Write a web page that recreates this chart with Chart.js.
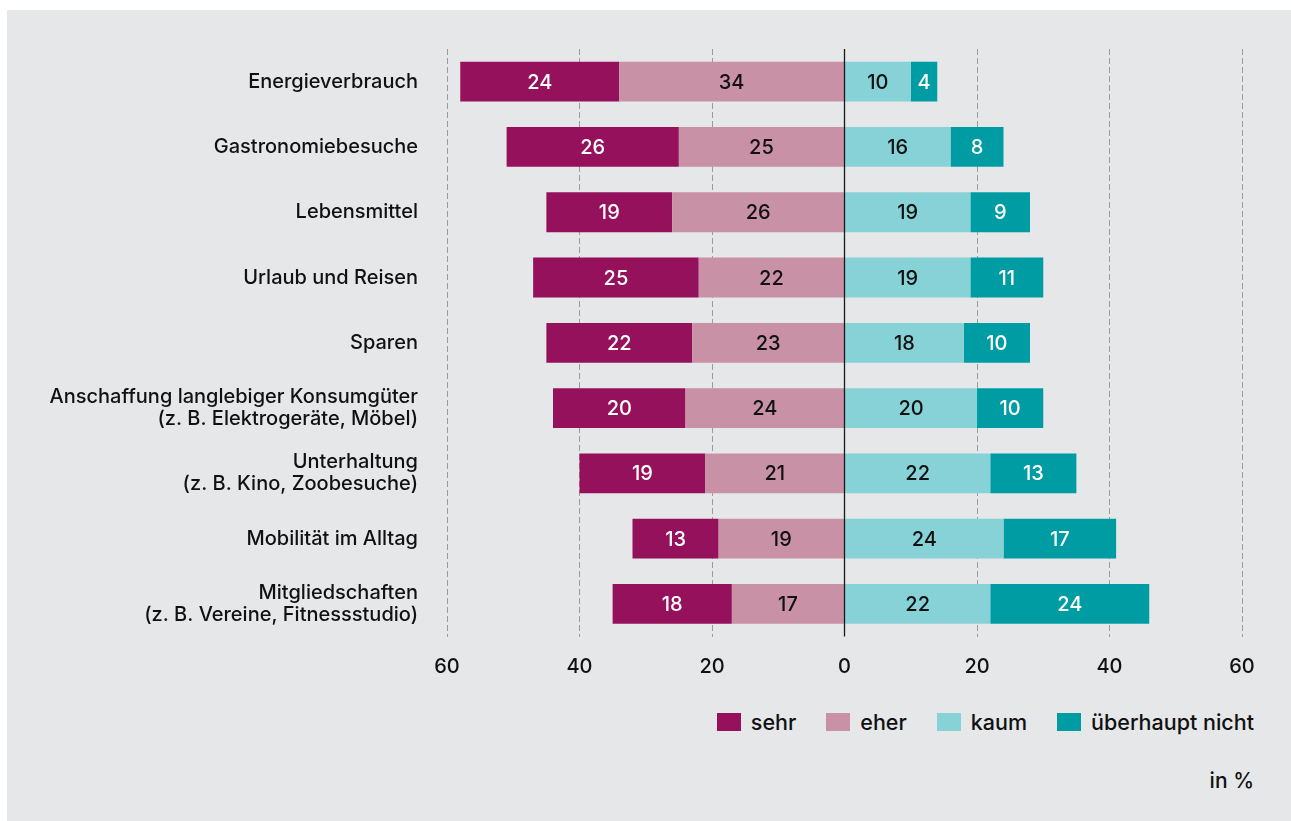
<!DOCTYPE html>
<html lang="de">
<head>
<meta charset="utf-8">
<title>Einsparungen</title>
<script src="https://cdn.jsdelivr.net/npm/chart.js@4.4.1/dist/chart.umd.min.js"></script>
<style>
  html, body { margin: 0; padding: 0; background: #fff; }
  body {
    width: 1291px; height: 821px; position: relative; overflow: hidden;
    font-family: Inter, "Liberation Sans", Arial, sans-serif; font-weight: 500; color: #111;
  }
  #panel { position: absolute; left: 7px; top: 10px; right: 0; bottom: 0; background: #e6e7e9; }
  #wrap { position: absolute; left: 0; top: 0; width: 1291px; height: 700px; }
  #legend {
    position: absolute; right: 37px; top: 711px;
    display: flex; gap: 30px; font-size: 21.5px; line-height: 22px;
  }
  #legend .item { display: flex; align-items: center; }
  #legend .box { width: 24px; height: 18px; margin-right: 10px; }
  #unit { position: absolute; right: 37px; top: 770px; font-size: 21px; line-height: 22px; }
</style>
</head>
<body>
<div id="panel"></div>
<div id="wrap"><canvas id="sparChart"></canvas></div>
<div id="legend"></div>
<div id="unit">in %</div>

<script>
const categories = [
  "Energieverbrauch",
  "Gastronomiebesuche",
  "Lebensmittel",
  "Urlaub und Reisen",
  "Sparen",
  ["Anschaffung langlebiger Konsumgüter", "(z. B. Elektrogeräte, Möbel)"],
  ["Unterhaltung", "(z. B. Kino, Zoobesuche)"],
  "Mobilität im Alltag",
  ["Mitgliedschaften", "(z. B. Vereine, Fitnessstudio)"],
];

const sehr = [24, 26, 19, 25, 22, 20, 19, 13, 18];
const eher = [34, 25, 26, 22, 23, 24, 21, 19, 17];
const kaum = [10, 16, 19, 19, 18, 20, 22, 24, 22];
const ueberhauptNicht = [4, 8, 9, 11, 10, 10, 13, 17, 24];

const xTicks = [-60, -40, -20, 0, 20, 40, 60];

const FONT = 'Inter, "Liberation Sans", Arial, sans-serif';

// legend order differs from stacking order (eher sits next to zero)
const series = [
  { label: "sehr", values: sehr, color: "#96115c", text: "#ffffff", side: -1 },
  { label: "eher", values: eher, color: "#c991a5", text: "#111111", side: -1 },
  { label: "kaum", values: kaum, color: "#87d2d6", text: "#111111", side: 1 },
  { label: "überhaupt nicht", values: ueberhauptNicht, color: "#009ca3", text: "#ffffff", side: 1 },
];
const stackOrder = [1, 0, 2, 3];

const datasets = stackOrder.map((i) => {
  const s = series[i];
  return {
    label: s.label,
    data: s.values.map((v) => v * s.side),
    backgroundColor: s.color,
    textColor: s.text,
    borderWidth: 0,
    categoryPercentage: 1,
    barPercentage: 0.61,
  };
});

const barValues = {
  id: "barValues",
  afterDatasetsDraw(chart) {
    const ctx = chart.ctx;
    ctx.save();
    ctx.font = "500 20px " + FONT;
    ctx.textAlign = "center";
    ctx.textBaseline = "middle";
    chart.data.datasets.forEach((ds, di) => {
      const meta = chart.getDatasetMeta(di);
      meta.data.forEach((bar, j) => {
        const p = bar.getCenterPoint();
        ctx.fillStyle = ds.textColor;
        ctx.fillText(String(Math.abs(ds.data[j])), p.x, p.y + 1);
      });
    });
    // zero line on top of the bars
    const x0 = chart.scales.x.getPixelForValue(0);
    ctx.strokeStyle = "#1a1a1a";
    ctx.lineWidth = 1.3;
    ctx.beginPath();
    ctx.moveTo(x0, chart.chartArea.top);
    ctx.lineTo(x0, chart.chartArea.bottom);
    ctx.stroke();
    ctx.restore();
  },
};

new Chart(document.getElementById("sparChart"), {
  type: "bar",
  data: { labels: categories, datasets },
  options: {
    indexAxis: "y",
    responsive: true,
    maintainAspectRatio: false,
    animation: false,
    layout: { padding: { top: 49, right: 49, bottom: 0, left: 0 } },
    plugins: {
      legend: { display: false },
      tooltip: { enabled: false },
    },
    scales: {
      x: {
        stacked: true,
        min: -60,
        max: 60,
        afterBuildTicks: (scale) => {
          scale.ticks = xTicks.map((v) => ({ value: v }));
        },
        afterFit: (scale) => {
          scale.height = 63.4;
        },
        ticks: {
          padding: 18,
          color: "#111",
          font: { family: FONT, size: 20, weight: 500 },
          callback: (v) => Math.abs(v),
        },
        grid: {
          drawTicks: false,
          color: (c) => (c.tick && c.tick.value === 0 ? "rgba(0,0,0,0)" : "#9b9b9b"),
          lineWidth: 1,
        },
        border: { display: false, dash: [6, 3] },
      },
      y: {
        stacked: true,
        afterFit: (scale) => {
          scale.width = 447;
        },
        ticks: {
          padding: 21,
          color: "#111",
          font: { family: FONT, size: 20, weight: 500, lineHeight: 1.1 },
        },
        grid: { display: false },
        border: { display: false },
      },
    },
  },
  plugins: [barValues],
});

const legendEl = document.getElementById("legend");
series.forEach((s) => {
  const item = document.createElement("div");
  item.className = "item";
  const box = document.createElement("span");
  box.className = "box";
  box.style.background = s.color;
  const txt = document.createElement("span");
  txt.textContent = s.label;
  item.appendChild(box);
  item.appendChild(txt);
  legendEl.appendChild(item);
});
</script>
</body>
</html>
